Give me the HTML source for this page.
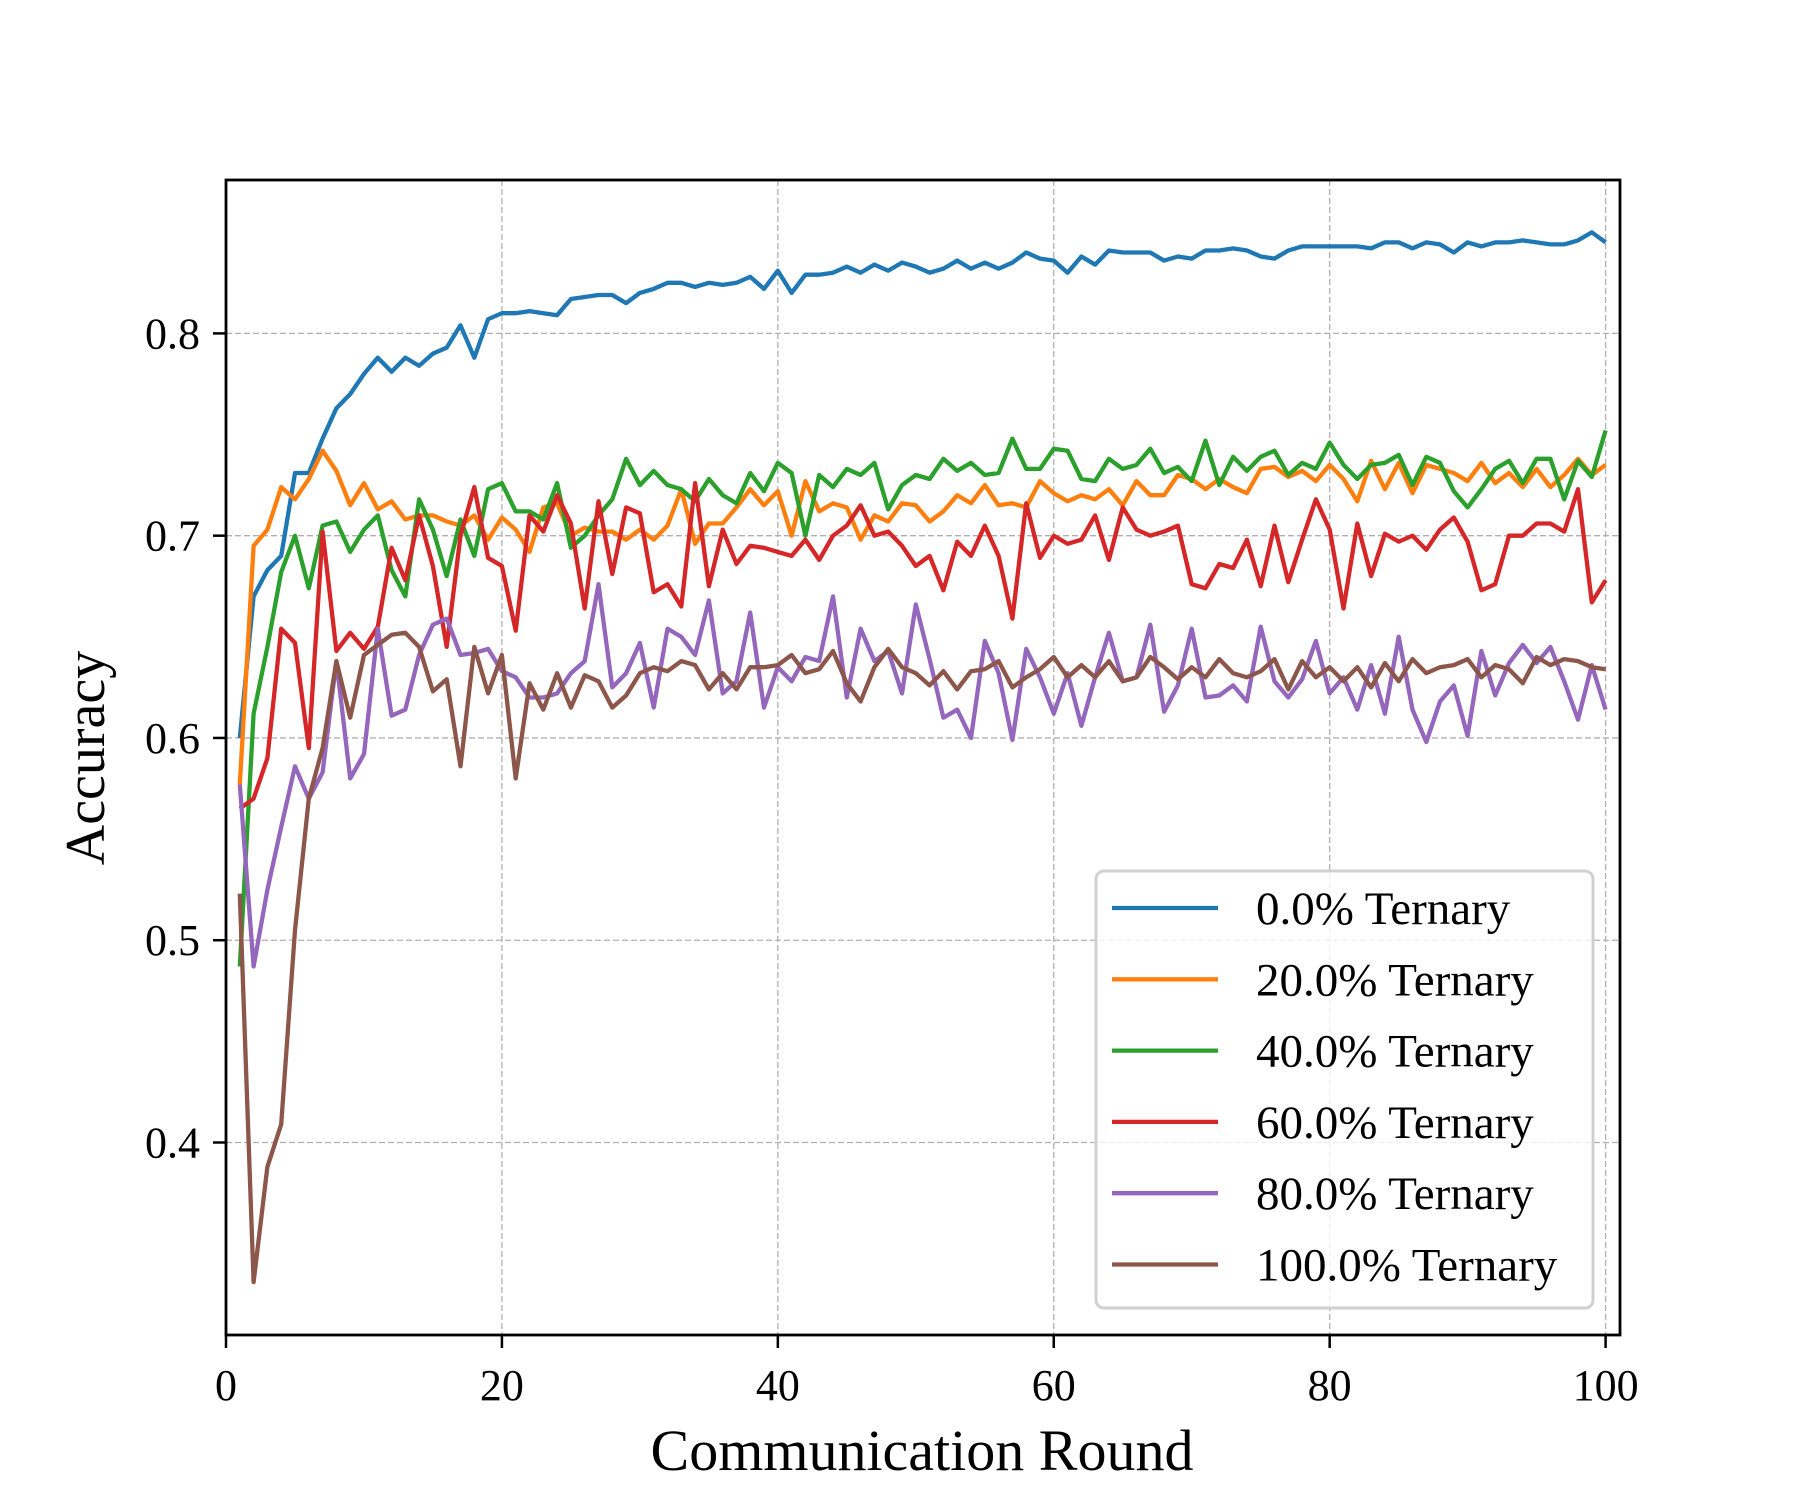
<!DOCTYPE html>
<html><head><meta charset="utf-8"><style>
html,body{margin:0;padding:0;background:#fff;}
svg{display:block;font-family:"Liberation Serif",serif;}
</style></head><body>
<svg id="chart" width="1800" height="1500" viewBox="0 0 1800 1500" xmlns="http://www.w3.org/2000/svg">
<rect width="1800" height="1500" fill="#fff"/>
<g id="grid"></g>
<g id="series"></g>
<rect x="226" y="180" width="1394" height="1155" fill="none" stroke="#000" stroke-width="2.8"/>
<g id="ticks"></g>
<text x="922" y="1470" font-size="58" text-anchor="middle">Communication Round</text>
<text x="0" y="0" font-size="56" text-anchor="middle" transform="translate(104,758) rotate(-90)">Accuracy</text>
<g id="legend"></g>
</svg>
<script>
const rounds = Array.from({length:100},(_,i)=>i+1);
const seriesNames = ["0.0% Ternary","20.0% Ternary","40.0% Ternary","60.0% Ternary","80.0% Ternary","100.0% Ternary"];
const seriesColors = ["#1f77b4","#ff7f0e","#2ca02c","#d62728","#9467bd","#8c564b"];
const xTicks = [0,20,40,60,80,100];
const yTicks = [0.4,0.5,0.6,0.7,0.8];
const s0 = [.600,.670,.683,.690,.731,.731,.748,.763,.770,.780,.788,.781,.788,.784,.790,.793,.804,.788,.807,.810,.810,.811,.810,.809,.817,.818,.819,.819,.815,.820,.822,.825,.825,.823,.825,.824,.825,.828,.822,.831,.820,.829,.829,.830,.833,.830,.834,.831,.835,.833,.830,.832,.836,.832,.835,.832,.835,.840,.837,.836,.830,.838,.834,.841,.840,.840,.840,.836,.838,.837,.841,.841,.842,.841,.838,.837,.841,.843,.843,.843,.843,.843,.842,.845,.845,.842,.845,.844,.840,.845,.843,.845,.845,.846,.845,.844,.844,.846,.850,.845];
const s20 = [.577,.695,.703,.724,.718,.728,.742,.732,.715,.726,.713,.717,.708,.710,.710,.707,.705,.710,.698,.709,.703,.692,.714,.716,.700,.704,.702,.702,.698,.703,.698,.705,.723,.696,.706,.706,.714,.723,.715,.722,.700,.727,.712,.716,.714,.698,.710,.707,.716,.715,.707,.712,.720,.716,.725,.715,.716,.714,.727,.721,.717,.720,.718,.723,.715,.727,.720,.720,.730,.728,.723,.728,.724,.721,.733,.734,.729,.732,.727,.735,.728,.717,.737,.723,.736,.721,.735,.733,.731,.727,.736,.726,.731,.724,.733,.724,.730,.738,.730,.735];
const s40 = [.487,.612,.645,.682,.700,.674,.705,.707,.692,.703,.710,.683,.670,.718,.703,.680,.708,.690,.723,.726,.712,.712,.708,.726,.694,.700,.710,.718,.738,.725,.732,.725,.723,.717,.728,.720,.716,.731,.722,.736,.731,.700,.730,.724,.733,.730,.736,.713,.725,.730,.728,.738,.732,.736,.730,.731,.748,.733,.733,.743,.742,.728,.727,.738,.733,.735,.743,.731,.734,.727,.747,.725,.739,.732,.739,.742,.730,.736,.733,.746,.735,.728,.735,.736,.740,.725,.739,.736,.722,.714,.723,.733,.737,.726,.738,.738,.718,.737,.729,.752];
const s60 = [.565,.570,.590,.654,.647,.595,.702,.643,.652,.644,.655,.694,.678,.710,.685,.645,.700,.724,.689,.685,.653,.710,.702,.720,.706,.664,.717,.681,.714,.711,.672,.676,.665,.726,.675,.703,.686,.695,.694,.692,.690,.698,.688,.700,.705,.715,.700,.702,.695,.685,.690,.673,.697,.690,.705,.690,.659,.716,.689,.700,.696,.698,.710,.688,.714,.703,.700,.702,.705,.676,.674,.686,.684,.698,.675,.705,.677,.698,.718,.703,.664,.706,.680,.701,.697,.700,.693,.703,.709,.697,.673,.676,.700,.700,.706,.706,.702,.723,.667,.678];
const s80 = [.577,.487,.525,.556,.586,.570,.583,.638,.580,.592,.654,.611,.614,.641,.656,.659,.641,.642,.644,.633,.630,.620,.620,.622,.632,.638,.676,.625,.632,.647,.615,.654,.650,.641,.668,.622,.628,.662,.615,.635,.628,.640,.638,.670,.620,.654,.638,.643,.622,.666,.639,.610,.614,.600,.648,.632,.599,.644,.630,.612,.632,.606,.630,.652,.628,.630,.656,.613,.626,.654,.620,.621,.626,.618,.655,.628,.620,.629,.648,.622,.630,.614,.636,.612,.650,.614,.598,.618,.626,.601,.643,.621,.637,.646,.637,.645,.628,.609,.636,.614];
const s100 = [.523,.331,.388,.409,.505,.570,.595,.638,.610,.641,.646,.651,.652,.645,.623,.629,.586,.645,.622,.641,.580,.627,.614,.632,.615,.631,.628,.615,.621,.632,.635,.633,.638,.636,.624,.632,.624,.635,.635,.636,.641,.632,.634,.643,.627,.618,.635,.644,.635,.632,.626,.633,.624,.633,.634,.638,.625,.630,.634,.640,.630,.636,.630,.638,.628,.630,.640,.635,.629,.635,.630,.639,.632,.630,.633,.639,.624,.638,.630,.635,.628,.635,.625,.637,.628,.639,.632,.635,.636,.639,.630,.636,.634,.627,.640,.636,.639,.638,.635,.634];
const allSeries = [s0,s20,s40,s60,s80,s100];

const NS="http://www.w3.org/2000/svg";
const X = v => 226 + v*13.796;
const Y = v => 333.4 + (0.8 - v)*2022.75;
function mk(tag, attrs, parent){const e=document.createElementNS(NS,tag);for(const k in attrs)e.setAttribute(k,attrs[k]);parent.appendChild(e);return e;}
const grid=document.getElementById('grid'), ticks=document.getElementById('ticks'), ser=document.getElementById('series'), leg=document.getElementById('legend');

xTicks.forEach(t=>{
  const g=mk('line',{x1:X(t),x2:X(t),y1:180,y2:1335,stroke:'#b0b0b0','stroke-width':1.3,'stroke-dasharray':'6,3'},grid);
  
  
  const tk=mk('line',{x1:X(t),x2:X(t),y1:1335,y2:1348,stroke:'#000','stroke-width':2.5},ticks);
  
  
  const tl=mk('text',{x:X(t),y:1400,'font-size':44,'text-anchor':'middle'},ticks);
  tl.textContent=t;
  
  
});
yTicks.forEach(t=>{
  const g=mk('line',{x1:226,x2:1620,y1:Y(t),y2:Y(t),stroke:'#b0b0b0','stroke-width':1.3,'stroke-dasharray':'6,3'},grid);
  
  
  const tk=mk('line',{x1:213,x2:226,y1:Y(t),y2:Y(t),stroke:'#000','stroke-width':2.5},ticks);
  
  
  const tl=mk('text',{x:200,y:Y(t)+15,'font-size':44,'text-anchor':'end'},ticks);
  tl.textContent=t.toFixed(1);
  
  
});
allSeries.forEach((d,i)=>{
  const pts=d.map((v,j)=>X(rounds[j]).toFixed(1)+','+Y(v).toFixed(1)).join(' ');
  const p=mk('polyline',{points:pts,fill:'none',stroke:seriesColors[i],'stroke-width':4.3,'stroke-linejoin':'round'},ser);
  
  
});
const box=mk('rect',{x:1096,y:871,width:497,height:437,rx:8,fill:'#fff','fill-opacity':0.8,stroke:'#d0d0d0','stroke-width':3},leg);


seriesNames.forEach((n,i)=>{
  const y=908+i*71.3;
  const l=mk('line',{x1:1112,x2:1218,y1:y,y2:y,stroke:seriesColors[i],'stroke-width':4.3},leg);
  
  
  const t=mk('text',{x:1256,y:y+16,'font-size':47},leg);
  t.textContent=n;
  
  
});
</script>
</body></html>
